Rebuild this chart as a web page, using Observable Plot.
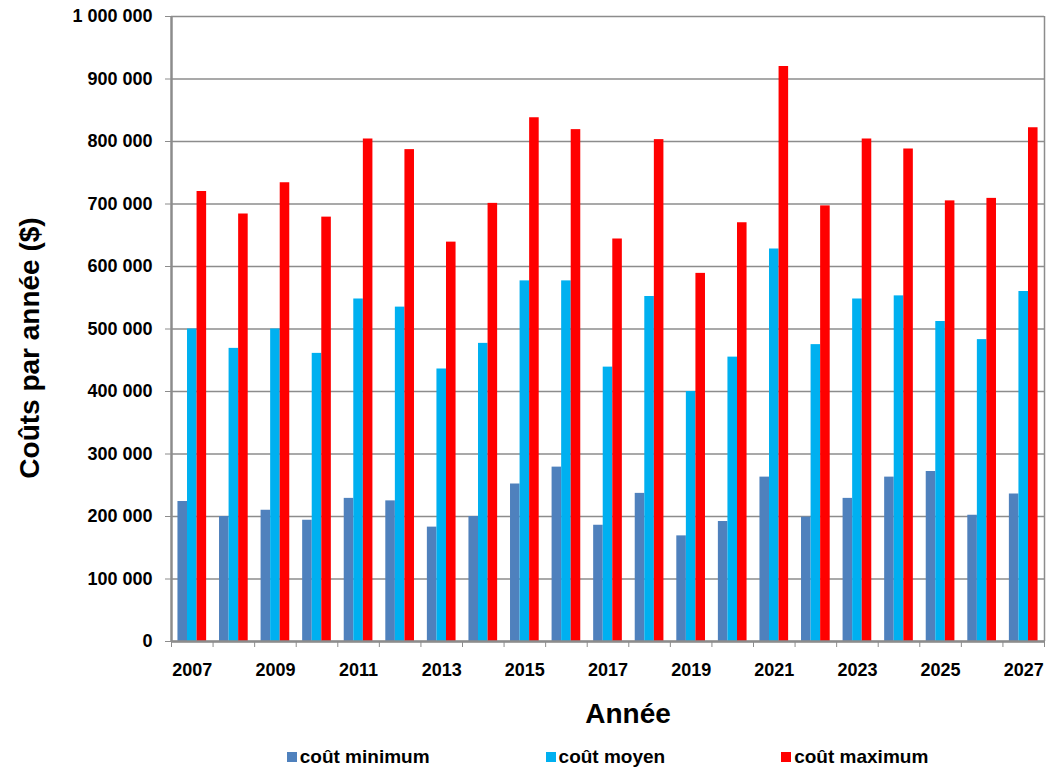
<!DOCTYPE html>
<html>
<head>
<meta charset="utf-8">
<script src="https://cdn.jsdelivr.net/npm/d3@7"></script>
<script src="https://cdn.jsdelivr.net/npm/@observablehq/plot@0.6"></script>
<style>
  html, body { margin: 0; padding: 0; background: #fff; }
  body { width: 1049px; height: 769px; overflow: hidden; font-family: "Liberation Sans", Arial, sans-serif; }
  #legend { display: flex; justify-content: center; align-items: center; gap: 116px;
            margin-left: 171px; width: 873px; height: 29px; font-weight: bold; font-size: 19px; color: #000;
            position: relative; top: 2px; }
  #legend .item { display: flex; align-items: center; gap: 3px; }
  #legend .sw { width: 10px; height: 10px; display: inline-block; }
</style>
</head>
<body>
<div id="chart"></div>
<div id="legend"></div>
<script>
const years = [2007, 2008, 2009, 2010, 2011, 2012, 2013, 2014, 2015, 2016, 2017, 2018, 2019, 2020, 2021, 2022, 2023, 2024, 2025, 2026, 2027];
const coutMinimum = [224000, 200000, 210000, 194000, 229000, 225000, 183000, 200000, 252000, 279000, 186000, 237000, 169000, 192000, 263000, 199000, 229000, 263000, 272000, 202000, 236000];
const coutMoyen = [500000, 469000, 500000, 461000, 548000, 535000, 436000, 477000, 577000, 577000, 439000, 552000, 400000, 455000, 628000, 475000, 548000, 553000, 512000, 483000, 560000];
const coutMaximum = [720000, 684000, 734000, 679000, 804000, 787000, 639000, 701000, 838000, 819000, 644000, 803000, 589000, 670000, 920000, 697000, 804000, 788000, 705000, 709000, 822000];
const seriesNames = ["coût minimum", "coût moyen", "coût maximum"];
const seriesColors = ["#4F81BD", "#00B0F0", "#FF0000"];
const yTicks = [0, 100000, 200000, 300000, 400000, 500000, 600000, 700000, 800000, 900000, 1000000];
const xLabelYears = [2007, 2009, 2011, 2013, 2015, 2017, 2019, 2021, 2023, 2025, 2027];

const seriesValues = [coutMinimum, coutMoyen, coutMaximum];
const rows = [];
seriesNames.forEach((s, i) => years.forEach((y, j) => rows.push({year: y, series: s, idx: i, value: seriesValues[i][j]})));

const barW = 0.23;
const boundaries = years.map(y => y - 0.5).concat([years[years.length - 1] + 0.5]);
const fmt = v => d3.format(",")(v).replace(/,/g, " ");
const xMin = years[0] - 0.5, xMax = years[years.length - 1] + 0.5;

const chart = Plot.plot({
  width: 1049,
  height: 740,
  marginLeft: 171,
  marginRight: 5,
  marginTop: 16,
  marginBottom: 99,
  style: {fontFamily: "'Liberation Sans', Arial, sans-serif", background: "#fff"},
  x: {type: "linear", domain: [xMin, xMax]},
  y: {domain: [0, 1000000]},
  color: {domain: seriesNames, range: seriesColors},
  marks: [
    Plot.gridY(yTicks, {stroke: "#8c8c8c", strokeOpacity: 1, strokeWidth: 1.5}),
    Plot.ruleX([xMax], {stroke: "#8c8c8c", strokeWidth: 1.5}),
    Plot.rectY(rows, {
      x1: d => d.year + (d.idx - 1.5) * barW,
      x2: d => d.year + (d.idx - 0.5) * barW,
      y: "value",
      fill: "series"
    }),
    Plot.ruleY([0], {stroke: "#8c8c8c", strokeWidth: 2.5}),
    Plot.ruleX([xMin], {stroke: "#8c8c8c", strokeWidth: 2.5}),
    Plot.axisY({ticks: yTicks, tickFormat: fmt, tickSize: 6, tickPadding: 13, stroke: "#8c8c8c", fill: "#000",
                fontSize: 18, fontWeight: "bold", label: null}),
    Plot.axisX({ticks: boundaries, tickFormat: () => "", tickSize: 6, stroke: "#8c8c8c", label: null}),
    Plot.axisX({ticks: xLabelYears, tickFormat: d => String(d), tickSize: 0, tickPadding: 22, fill: "#000",
                fontSize: 18, fontWeight: "bold", label: null}),
    Plot.text(["Coûts par année ($)"], {frameAnchor: "left", textAnchor: "middle", dx: -141, dy: 19, rotate: -90, fontSize: 28,
                fontWeight: "bold", fill: "#000", text: d => d}),
    Plot.text(["Année"], {frameAnchor: "bottom", dx: 20, dy: 81, fontSize: 28, fontWeight: "bold", fill: "#000", text: d => d})
  ]
});
document.getElementById("chart").appendChild(chart);

const legend = document.getElementById("legend");
seriesNames.forEach((s, i) => {
  const item = document.createElement("div");
  item.className = "item";
  const sw = document.createElement("span");
  sw.className = "sw";
  sw.style.background = seriesColors[i];
  const t = document.createElement("span");
  t.textContent = s;
  item.appendChild(sw);
  item.appendChild(t);
  legend.appendChild(item);
});
</script>
</body>
</html>
